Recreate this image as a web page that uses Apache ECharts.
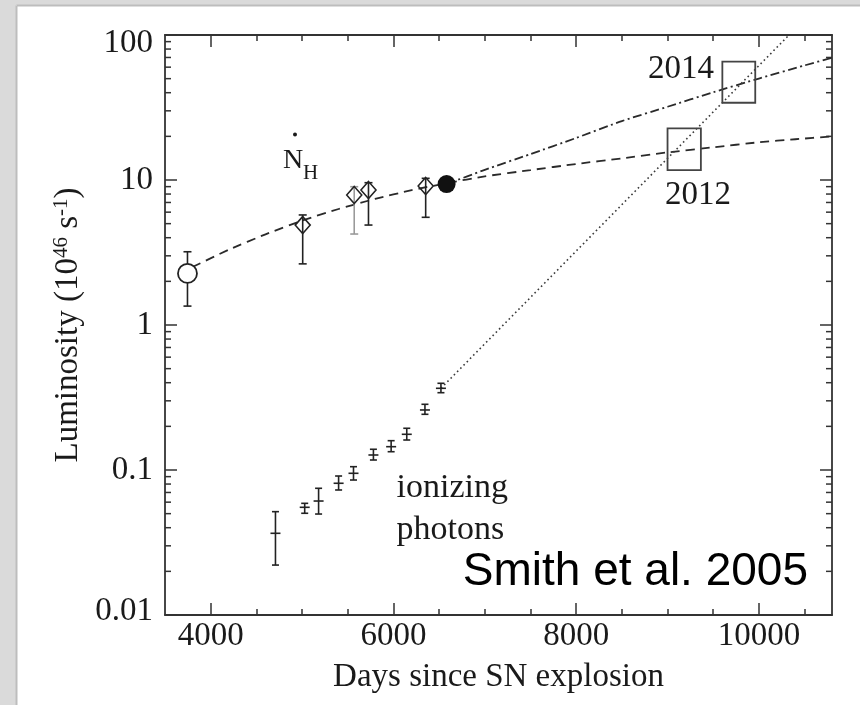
<!DOCTYPE html>
<html>
<head>
<meta charset="utf-8">
<title>Luminosity vs days since SN explosion</title>
<script src="https://cdn.jsdelivr.net/npm/echarts@6/dist/echarts.min.js"></script>
<style>
  html, body { margin: 0; padding: 0; background: #fff; }
  #main { width: 860px; height: 705px; }
</style>
</head>
<body>
<div id="main"></div>
<script>
// 坐标轴范围和刻度
var xRange = [3500, 10800];
var xMajorTicks = [4000, 6000, 8000, 10000];
var xMinorTicks = [4500, 5000, 5500, 6500, 7000, 7500, 8500, 9000, 9500, 10500];
var yRange = [0.01, 100];
var yMinorTicks = [
  0.02, 0.03, 0.04, 0.05, 0.06, 0.07, 0.08, 0.09,
  0.2, 0.3, 0.4, 0.5, 0.6, 0.7, 0.8, 0.9,
  2, 3, 4, 5, 6, 7, 8, 9,
  20, 30, 40, 50, 60, 70, 80, 90
];

// N_H 观测点 (空心圆 / 菱形 / 实心圆)
var nhDays = [3746, 5007, 5571, 5727, 6353, 6582];
var nhLum = [2.27, 4.89, 7.88, 8.53, 9.09, 9.38];
var nhLow = [1.35, 2.64, 4.24, 4.89, 5.53, null];
var nhHigh = [3.20, 5.74, 8.99, 9.58, 10.27, null];
var nhMarker = ['open', 'diamond', 'diamond', 'diamond', 'diamond', 'filled'];

// 电离光子
var phDays = [4709, 5029, 5181, 5400, 5563, 5781, 5975, 6146, 6345, 6520];
var phLum = [0.0366, 0.0553, 0.0611, 0.0810, 0.0949, 0.1269, 0.1448, 0.1763, 0.2594, 0.3660];
var phLow = [0.0221, 0.0503, 0.0497, 0.0728, 0.0853, 0.1172, 0.1337, 0.161, 0.2422, 0.3413];
var phHigh = [0.0516, 0.0589, 0.0748, 0.0909, 0.1054, 0.139, 0.1593, 0.194, 0.2839, 0.3963];

// 拟合曲线
var nhFitDays = [3800, 4200, 4600, 5000, 5400, 5800, 6200, 6600, 7000, 7500, 8000, 8500, 9000, 9500, 10000, 10400, 10800];
var nhFitLum = [2.51, 3.31, 4.22, 5.25, 6.31, 7.41, 8.51, 9.55, 10.6, 11.7, 12.9, 14.1, 15.5, 16.8, 18.2, 19.1, 20.0];
var accelFitDays = [6582, 7000, 7500, 8000, 8500, 9000, 9500, 10000, 10500, 10800];
var accelFitLum = [9.38, 11.75, 15.1, 19.5, 25.5, 32.0, 40.3, 50.1, 61.7, 69.7];
var photonFitDays = [6520, 10330];
var photonFitLum = [0.366, 100];

// 2012 / 2014 预测框
var boxLabels = ['2012', '2014'];
var boxDaysStart = [9000, 9600];
var boxDaysEnd = [9365, 9960];
var boxLumLow = [11.7, 34.1];
var boxLumHigh = [22.7, 65.5];

var SERIF = '"Liberation Serif", "Times New Roman", serif';
var INK = '#1a1a1a';
var FRAME = '#333';
var LIGHT_BAR = 2; // 这一根误差棒颜色较浅

var chartDom = document.getElementById('main');
var myChart = echarts.init(chartDom, null, { renderer: 'canvas' });

function zip(a, b) {
  return a.map(function (v, i) { return [v, b[i]]; });
}

function errorBars(cap, tick, colorOf) {
  return function (params, api) {
    var x = api.value(0);
    var mid = api.coord([x, api.value(1)]);
    var lo = api.coord([x, api.value(2)]);
    var hi = api.coord([x, api.value(3)]);
    var style = { stroke: colorOf(params.dataIndex), lineWidth: 1.6 };
    var kids = [
      { type: 'line', shape: { x1: lo[0], y1: lo[1], x2: hi[0], y2: hi[1] }, style: style },
      { type: 'line', shape: { x1: lo[0] - cap, y1: lo[1], x2: lo[0] + cap, y2: lo[1] }, style: style },
      { type: 'line', shape: { x1: hi[0] - cap, y1: hi[1], x2: hi[0] + cap, y2: hi[1] }, style: style }
    ];
    if (tick) {
      kids.push({ type: 'line', shape: { x1: mid[0] - tick, y1: mid[1], x2: mid[0] + tick, y2: mid[1] }, style: style });
    }
    return { type: 'group', children: kids };
  };
}

var nhBarData = [];
for (var i = 0; i < nhDays.length; i++) {
  if (nhLow[i] != null) nhBarData.push([nhDays[i], nhLum[i], nhLow[i], nhHigh[i], i]);
}
var phBarData = phDays.map(function (d, i) { return [d, phLum[i], phLow[i], phHigh[i]]; });

function nhPoints(kind) {
  var out = [];
  for (var i = 0; i < nhDays.length; i++) {
    if (nhMarker[i] === kind) out.push([nhDays[i], nhLum[i]]);
  }
  return out;
}

var xCommon = {
  type: 'value', min: xRange[0], max: xRange[1],
  splitLine: { show: false },
  axisLine: { show: true, onZero: false, lineStyle: { color: FRAME, width: 1.8 } }
};
var tickStyle = { color: FRAME, width: 1.5 };

var option = {
  backgroundColor: '#ffffff',
  animation: false,
  grid: [
    { left: 165, right: 28, top: 35, bottom: 90 },
    { left: 165, right: 28, top: 35, bottom: 90 }
  ],
  xAxis: [
    Object.assign({}, xCommon, {
      gridIndex: 0, position: 'bottom',
      axisTick: { inside: true, length: 12, customValues: xMajorTicks, lineStyle: tickStyle },
      axisLabel: {
        customValues: xMajorTicks, fontFamily: SERIF, fontSize: 33, color: INK, margin: 5,
        formatter: function (v) { return String(v); }
      },
      name: 'Days since SN explosion', nameLocation: 'middle', nameGap: 46,
      nameTextStyle: { fontFamily: SERIF, fontSize: 33, color: INK }
    }),
    Object.assign({}, xCommon, {
      gridIndex: 0, position: 'top',
      axisTick: { inside: true, length: 12, customValues: xMajorTicks, lineStyle: tickStyle },
      axisLabel: { show: false }
    }),
    Object.assign({}, xCommon, {
      gridIndex: 1, position: 'bottom', axisLine: { show: false },
      axisTick: { inside: true, length: 6, customValues: xMinorTicks, lineStyle: tickStyle },
      axisLabel: { show: false }
    }),
    Object.assign({}, xCommon, {
      gridIndex: 1, position: 'top', axisLine: { show: false },
      axisTick: { inside: true, length: 6, customValues: xMinorTicks, lineStyle: tickStyle },
      axisLabel: { show: false }
    })
  ],
  yAxis: [
    {
      gridIndex: 0, type: 'log', logBase: 10, min: yRange[0], max: yRange[1], position: 'left',
      splitLine: { show: false },
      axisLine: { show: true, onZero: false, lineStyle: { color: FRAME, width: 1.8 } },
      axisTick: { inside: true, length: 12, lineStyle: tickStyle },
      axisLabel: {
        fontFamily: SERIF, fontSize: 33, color: INK, margin: 12,
        formatter: function (v) {
          var s = String(+v.toPrecision(3));
          if (v >= 99) return '{hi|' + s + '}';
          if (v <= 0.011) return '{lo|' + s + '}';
          return s;
        },
        rich: {
          hi: { fontFamily: SERIF, fontSize: 33, color: INK, padding: [17, 0, 0, 0] },
          lo: { fontFamily: SERIF, fontSize: 33, color: INK, padding: [0, 0, 8, 0] }
        }
      },
      name: 'Luminosity (10{sup|46} s{sup|-1})', nameLocation: 'middle', nameGap: 79,
      nameTextStyle: {
        fontFamily: SERIF, fontSize: 33, color: INK,
        rich: { sup: { fontFamily: SERIF, fontSize: 21, color: INK, verticalAlign: 'top' } }
      }
    },
    {
      gridIndex: 0, type: 'log', logBase: 10, min: yRange[0], max: yRange[1], position: 'right',
      splitLine: { show: false },
      axisLine: { show: true, onZero: false, lineStyle: { color: FRAME, width: 1.8 } },
      axisTick: { inside: true, length: 12, lineStyle: tickStyle },
      axisLabel: { show: false }
    },
    {
      gridIndex: 1, type: 'log', logBase: 10, min: yRange[0], max: yRange[1], show: false
    }
  ],
  series: [
    {
      // 对数轴的次刻度
      type: 'custom', xAxisIndex: 0, yAxisIndex: 0, z: 1, silent: true,
      data: yMinorTicks.map(function (v) { return [xRange[0], v]; }),
      renderItem: function (params, api) {
        var v = api.value(1);
        var l = api.coord([xRange[0], v]);
        var r = api.coord([xRange[1], v]);
        return {
          type: 'group', children: [
            { type: 'line', shape: { x1: l[0], y1: l[1], x2: l[0] + 6, y2: l[1] }, style: { stroke: FRAME, lineWidth: 1.5 } },
            { type: 'line', shape: { x1: r[0] - 6, y1: r[1], x2: r[0], y2: r[1] }, style: { stroke: FRAME, lineWidth: 1.5 } }
          ]
        };
      }
    },
    {
      type: 'line', name: 'N_H fit', xAxisIndex: 0, yAxisIndex: 0, z: 2,
      data: zip(nhFitDays, nhFitLum), showSymbol: false, smooth: 0.2,
      lineStyle: { color: '#2a2a2a', width: 1.8, type: [9, 6] }
    },
    {
      type: 'line', name: 'accelerated', xAxisIndex: 0, yAxisIndex: 0, z: 2,
      data: zip(accelFitDays, accelFitLum), showSymbol: false, smooth: 0.2,
      lineStyle: { color: '#2a2a2a', width: 1.8, type: [9, 3.5, 2, 3.5] }
    },
    {
      type: 'line', name: 'photon fit', xAxisIndex: 0, yAxisIndex: 0, z: 2,
      data: zip(photonFitDays, photonFitLum), showSymbol: false,
      lineStyle: { color: '#3a3a3a', width: 1.6, type: [1.6, 3] }
    },
    {
      type: 'custom', name: 'boxes', xAxisIndex: 0, yAxisIndex: 0, z: 3,
      data: boxLabels.map(function (b, i) { return [boxDaysStart[i], boxLumLow[i], boxDaysEnd[i], boxLumHigh[i]]; }),
      renderItem: function (params, api) {
        var a = api.coord([api.value(0), api.value(3)]);
        var b = api.coord([api.value(2), api.value(1)]);
        return {
          type: 'rect',
          shape: { x: a[0], y: a[1], width: b[0] - a[0], height: b[1] - a[1] },
          style: { fill: 'none', stroke: '#444', lineWidth: 1.8 }
        };
      }
    },
    {
      type: 'custom', name: 'N_H errors', xAxisIndex: 0, yAxisIndex: 0, z: 3,
      data: nhBarData,
      renderItem: errorBars(4, 0, function (idx) {
        return nhBarData[idx][4] === LIGHT_BAR ? '#9a9a9a' : '#222';
      })
    },
    {
      type: 'custom', name: 'photons', xAxisIndex: 0, yAxisIndex: 0, z: 3,
      data: phBarData,
      renderItem: errorBars(3.5, 5, function () { return '#222'; })
    },
    {
      type: 'scatter', xAxisIndex: 0, yAxisIndex: 0, z: 4,
      data: nhPoints('open'), symbol: 'circle', symbolSize: 19,
      itemStyle: { color: '#fff', borderColor: '#222', borderWidth: 1.8, opacity: 1 }
    },
    {
      type: 'scatter', xAxisIndex: 0, yAxisIndex: 0, z: 4,
      data: nhPoints('diamond'), symbol: 'diamond', symbolSize: [15, 17],
      itemStyle: { color: 'rgba(255,255,255,0)', borderColor: '#222', borderWidth: 1.6, opacity: 1 }
    },
    {
      type: 'scatter', xAxisIndex: 0, yAxisIndex: 0, z: 4,
      data: nhPoints('filled'), symbol: 'circle', symbolSize: 18,
      itemStyle: { color: '#111', opacity: 1 }
    }
  ],
  graphic: [
    { type: 'rect', silent: true, shape: { x: 0, y: 0, width: 860, height: 5 }, style: { fill: '#dadada' } },
    { type: 'rect', silent: true, shape: { x: 0, y: 0, width: 16, height: 705 }, style: { fill: '#dadada' } },
    { type: 'line', silent: true, shape: { x1: 16.5, y1: 5.5, x2: 860, y2: 5.5 }, style: { stroke: '#bdbdbd', lineWidth: 2 } },
    { type: 'line', silent: true, shape: { x1: 16.5, y1: 5.5, x2: 16.5, y2: 705 }, style: { stroke: '#bdbdbd', lineWidth: 2 } },
    { type: 'circle', silent: true, shape: { cx: 295, cy: 134.5, r: 2 }, style: { fill: INK } },
    { type: 'text', silent: true, x: 283, y: 161, style: { text: 'N', font: '28px ' + SERIF, fill: INK, align: 'left', verticalAlign: 'middle' } },
    { type: 'text', silent: true, x: 303, y: 173, style: { text: 'H', font: '21px ' + SERIF, fill: INK, align: 'left', verticalAlign: 'middle' } },
    { type: 'text', silent: true, x: 714, y: 69.5, style: { text: boxLabels[1], font: '33px ' + SERIF, fill: INK, align: 'right', verticalAlign: 'middle' } },
    { type: 'text', silent: true, x: 665, y: 195, style: { text: boxLabels[0], font: '33px ' + SERIF, fill: INK, align: 'left', verticalAlign: 'middle' } },
    { type: 'text', silent: true, x: 396.5, y: 488.5, style: { text: 'ionizing', font: '34px ' + SERIF, fill: INK, align: 'left', verticalAlign: 'middle' } },
    { type: 'text', silent: true, x: 396.5, y: 530, style: { text: 'photons', font: '34px ' + SERIF, fill: INK, align: 'left', verticalAlign: 'middle' } },
    { type: 'text', silent: true, x: 808, y: 572.5, style: { text: 'Smith et al. 2005', font: '46px "Liberation Sans", Arial, sans-serif', fill: '#000', align: 'right', verticalAlign: 'middle' } }
  ]
};

myChart.setOption(option);
</script>
</body>
</html>
